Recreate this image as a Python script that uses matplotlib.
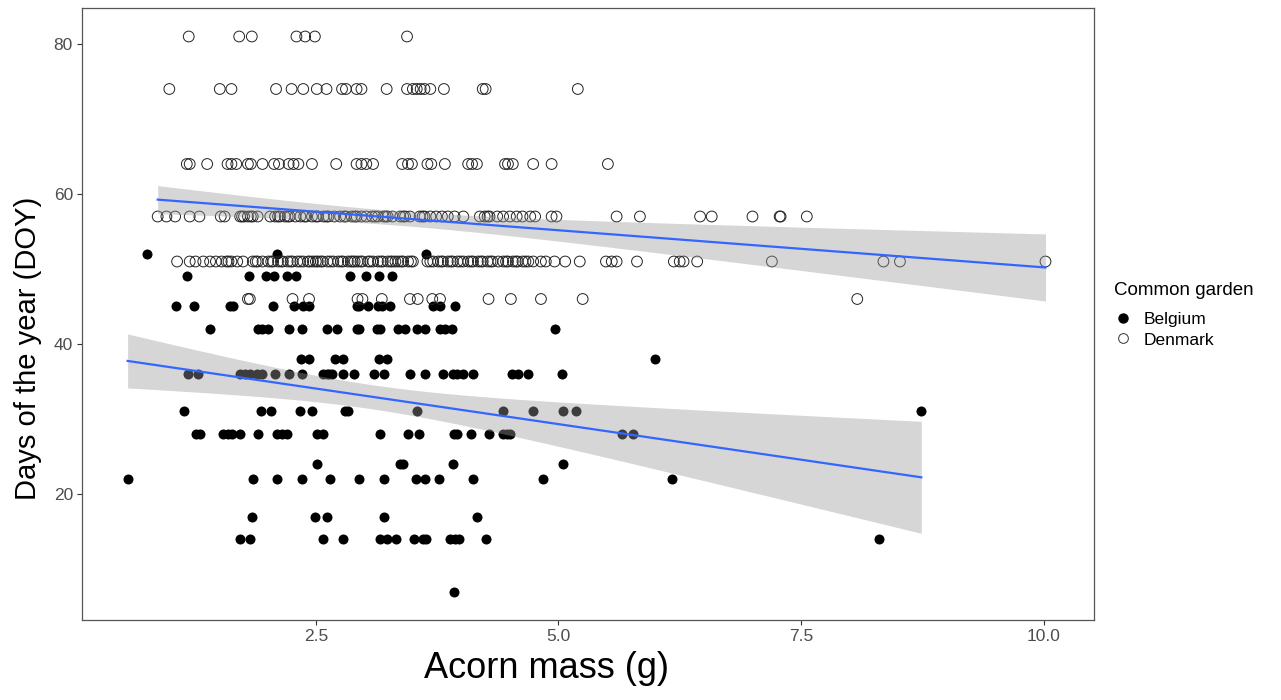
import numpy as np
import matplotlib
matplotlib.use('Agg')
import matplotlib.pyplot as plt
from matplotlib.lines import Line2D

plt.rcParams['font.family'] = ['Liberation Sans', 'DejaVu Sans']

# Denmark (open circles): acorn mass (g) per DOY level
dk_81 = [1.19, 1.71, 1.84, 2.30, 2.39, 2.49, 3.44]
dk_74 = [0.99, 1.51, 1.63, 2.09, 2.25, 2.37, 2.51, 2.61, 2.77, 2.81, 2.92, 2.97,
         3.23, 3.44, 3.50, 3.54, 3.58, 3.62, 3.68, 3.82, 4.22, 4.25, 5.20]
dk_64 = [1.17, 1.20, 1.38, 1.59, 1.63, 1.68, 1.80, 1.83, 1.95, 2.07, 2.12, 2.22,
         2.27, 2.32, 2.46, 2.71, 2.92, 2.97, 3.02, 3.09, 3.39, 3.45, 3.49, 3.65,
         3.69, 3.83, 4.07, 4.11, 4.16, 4.45, 4.48, 4.53, 4.74, 4.93, 5.51]
dk_57 = [0.87, 0.96, 1.05, 1.20, 1.30, 1.52, 1.56, 1.72, 1.76, 1.80, 1.85, 1.90,
         2.03, 2.08, 2.13, 2.18, 2.23, 2.29, 2.34, 2.40, 2.46, 2.52, 2.58, 2.63,
         2.69, 2.75, 2.81, 2.87, 2.92, 2.97, 3.02, 3.08, 3.14, 3.20, 3.24, 3.29,
         3.37, 3.42, 3.47, 3.57, 3.62, 3.68, 3.74, 3.86, 3.93, 4.02, 4.19, 4.24,
         4.29, 4.37, 4.43, 4.50, 4.57, 4.63, 4.71, 4.76, 4.93, 4.98, 5.60, 5.84,
         6.46, 6.58, 7.00, 7.28, 7.29, 7.56,
         # overlapping circles in the dense part of the row
         1.74, 1.83, 2.11, 2.21, 2.38, 2.50, 2.61, 2.79, 2.90, 3.11, 3.22, 3.40,
         3.60, 3.80, 4.27]
dk_51 = [1.07, 1.20, 1.26, 1.34, 1.41, 1.47, 1.53, 1.58, 1.63, 1.69, 1.75, 1.85,
         1.90, 1.95, 2.01, 2.06, 2.11, 2.16, 2.21, 2.26, 2.31, 2.37, 2.42, 2.47,
         2.52, 2.57, 2.62, 2.68, 2.73, 2.78, 2.83, 2.88, 2.93, 2.98, 3.04, 3.09,
         3.14, 3.19, 3.24, 3.29, 3.35, 3.40, 3.45, 3.50, 3.65, 3.71, 3.76, 3.81,
         3.86, 3.91, 3.96, 4.02, 4.07, 4.12, 4.17, 4.22, 4.27, 4.32, 4.38, 4.43,
         4.48, 4.53, 4.58, 4.63, 4.69, 4.74, 4.82, 4.87, 4.96, 5.07, 5.22, 5.49,
         5.55, 5.60, 5.81, 6.19, 6.25, 6.29, 6.43, 7.20, 8.35, 8.52, 10.02,
         # overlapping circles
         1.60, 1.88, 2.04, 2.14, 2.24, 2.34, 2.44, 2.55, 2.65, 2.76, 2.86, 2.96,
         3.06, 3.17, 3.27, 3.38, 3.48, 3.68, 3.79, 3.89, 3.99, 4.10, 4.20, 4.30,
         4.46, 4.56, 4.66, 2.50, 2.90, 3.32]
dk_46 = [1.80, 1.82, 2.26, 2.43, 2.93, 2.98, 3.18, 3.47, 3.55, 3.70, 3.78, 4.28,
         4.51, 4.82, 5.25, 8.08]

# Belgium (filled circles)
be_52 = [0.76, 2.10, 3.64]
be_49 = [1.17, 1.81, 1.99, 2.07, 2.20, 2.30, 2.85, 3.02, 3.15, 3.29]
be_45 = [1.06, 1.24, 1.62, 1.65, 2.06, 2.28, 2.37, 2.43, 2.92, 2.95, 3.04, 3.14,
         3.18, 3.26, 3.71, 3.78, 3.93]
be_42 = [1.41, 1.90, 1.95, 2.01, 2.22, 2.36, 2.61, 2.72, 2.92, 2.95, 3.13, 3.16,
         3.35, 3.42, 3.54, 3.62, 3.78, 3.83, 3.90, 4.96]
be_38 = [2.35, 2.43, 2.70, 2.78, 3.15, 3.23, 6.00]
be_36 = [1.18, 1.29, 1.72, 1.77, 1.82, 1.89, 1.95, 2.08, 2.22, 2.36, 2.57, 2.61,
         2.64, 2.67, 2.78, 2.89, 3.10, 3.20, 3.47, 3.63, 3.81, 3.91, 3.96, 4.02,
         4.12, 4.52, 4.58, 4.69, 5.04]
be_31 = [1.14, 1.93, 2.04, 2.34, 2.46, 2.80, 2.83, 3.54, 4.43, 4.74, 5.05, 5.18, 8.74]
be_28 = [1.27, 1.31, 1.54, 1.59, 1.64, 1.72, 1.90, 2.10, 2.15, 2.20, 2.51, 2.57,
         3.16, 3.45, 3.56, 3.92, 3.95, 4.10, 4.28, 4.43, 4.47, 4.50, 5.66, 5.77]
be_24 = [2.51, 3.37, 3.40, 3.91, 5.05]
be_22 = [0.56, 1.85, 2.10, 2.36, 2.65, 2.95, 3.20, 3.53, 3.62, 3.77, 4.12, 4.84, 6.17]
be_17 = [1.84, 2.49, 2.61, 3.20, 4.16]
be_14 = [1.72, 1.82, 2.57, 2.78, 3.16, 3.23, 3.33, 3.51, 3.60, 3.64, 3.88, 3.93,
         3.98, 4.25, 8.30]
be_7 = [3.92]

denmark = {81: dk_81, 74: dk_74, 64: dk_64, 57: dk_57, 51: dk_51, 46: dk_46}
belgium = {52: be_52, 49: be_49, 45: be_45, 42: be_42, 38: be_38, 36: be_36,
           31: be_31, 28: be_28, 24: be_24, 22: be_22, 17: be_17, 14: be_14, 7: be_7}


def flatten(groups):
    xs, ys = [], []
    for doy, masses in groups.items():
        xs += masses
        ys += [doy] * len(masses)
    return np.array(xs), np.array(ys, dtype=float)


def lm_band(x, y, t=1.97, n=80):
    """Linear fit with 95% confidence band, like geom_smooth(method='lm')."""
    b, a = np.polyfit(x, y, 1)
    resid = y - (a + b * x)
    s = np.sqrt(np.sum(resid ** 2) / (len(x) - 2))
    xg = np.linspace(x.min(), x.max(), n)
    se = s * np.sqrt(1 / len(x) + (xg - x.mean()) ** 2 / np.sum((x - x.mean()) ** 2))
    yg = a + b * xg
    return xg, yg, yg - t * se, yg + t * se


fig = plt.figure(figsize=(12.81, 7.0), dpi=100)
ax = fig.add_axes([82 / 1281, 1 - 620 / 700, 1012 / 1281, 612 / 700])

bx, by = flatten(belgium)
dx, dy = flatten(denmark)

ax.scatter(bx, by, s=52, color='black', linewidths=0, zorder=2)
ax.scatter(dx, dy, s=60, facecolors='none', edgecolors='#222222', linewidths=0.7, zorder=2)

for x, y in [(bx, by), (dx, dy)]:
    xg, yg, lo, hi = lm_band(x, y)
    ax.fill_between(xg, lo, hi, color='#999999', alpha=0.4, linewidth=0, zorder=3)
    ax.plot(xg, yg, color='#3366FF', linewidth=1.6, zorder=4)

ax.set_xlim(0.09, 10.52)
ax.set_ylim(3.2, 84.8)
ax.set_xticks([2.5, 5.0, 7.5, 10.0])
ax.set_xticklabels(['2.5', '5.0', '7.5', '10.0'])
ax.set_yticks([20, 40, 60, 80])
ax.tick_params(length=3.5, width=0.8, color='#333333', labelcolor='#4d4d4d',
               labelsize=12.5, pad=3)
for sp in ax.spines.values():
    sp.set_color('#555555')
    sp.set_linewidth(0.9)

ax.set_xlabel('Acorn mass (g)', fontsize=26)
ax.xaxis.set_label_coords((546 - 82) / 1012, -0.05)
ax.set_ylabel('Days of the year (DOY)', fontsize=21)
ax.yaxis.set_label_coords((42 - 82) / 1012, (620 - 348) / 612)

fig.text(1114 / 1281, 1 - 290 / 700, 'Common garden', fontsize=13.5,
         ha='left', va='center')
handles = [
    Line2D([], [], marker='o', linestyle='none', color='black', markersize=6.5),
    Line2D([], [], marker='o', linestyle='none', markerfacecolor='none',
           markeredgecolor='#333333', markeredgewidth=0.7, markersize=7),
]
leg = ax.legend(handles, ['Belgium', 'Denmark'],
                loc='upper left', bbox_to_anchor=(1.018, (620 - 312) / 612),
                frameon=False, fontsize=12.5, handletextpad=0.6,
                handlelength=1.2, labelspacing=0.3, borderaxespad=0, borderpad=0)

plt.savefig('out.png', dpi=100)
